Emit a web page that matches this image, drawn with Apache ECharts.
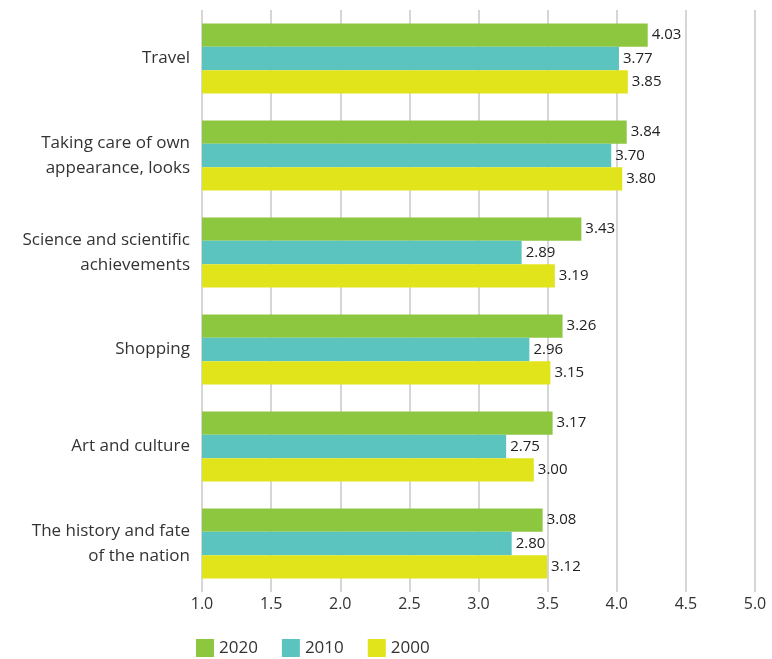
<!DOCTYPE html>
<html>
<head>
<meta charset="utf-8">
<script src="https://cdn.jsdelivr.net/npm/echarts@6/dist/echarts.min.js"></script>
<style>html,body{margin:0;padding:0;background:#fff}#c{width:772px;height:659px}</style>
</head>
<body>
<div id="c"></div>
<script>
const categories = ["Travel", "Taking care of own\nappearance, looks", "Science and scientific\nachievements", "Shopping", "Art and culture", "The history and fate\nof the nation"];
const seriesNames = ["2020", "2010", "2000"];
const values2020 = [4.03, 3.84, 3.43, 3.26, 3.17, 3.08];
const values2010 = [3.77, 3.70, 2.89, 2.96, 2.75, 2.80];
const values2000 = [3.85, 3.80, 3.19, 3.15, 3.00, 3.12];
const tickLabels = ["1.0", "1.5", "2.0", "2.5", "3.0", "3.5", "4.0", "4.5", "5.0"];
const colors = ["#8dc63f", "#5bc4bf", "#e1e41a"];

const FONT = "Open Sans";
const chart = echarts.init(document.getElementById('c'));
const step = 5 / (tickLabels.length - 1);
const mk = (name, data, color) => ({
  name, type: 'bar', data, barGap: '0%', barCategoryGap: '28%',
  itemStyle: { color },
  label: { show: true, position: 'right', distance: 4, color: '#222', fontSize: 15, fontFamily: FONT,
    formatter: p => p.value.toFixed(2) }
});
chart.setOption({
  animation: false,
  textStyle: { fontFamily: FONT },
  grid: { left: 202, right: 17, top: 10, height: 582 },
  legend: {
    left: 191, top: 634, itemWidth: 18, itemHeight: 18, itemGap: 24,
    icon: 'rect', textStyle: { fontSize: 17, color: '#333', fontFamily: FONT },
    data: seriesNames
  },
  xAxis: {
    type: 'value', min: 0, max: 5, interval: step,
    axisLine: { show: false }, axisTick: { show: false },
    splitLine: { show: true, lineStyle: { color: '#c8c8c8', width: 1.5 } },
    axisLabel: { fontSize: 16, color: '#333', fontFamily: FONT, margin: 4,
      formatter: v => tickLabels[Math.round(v / step)] }
  },
  yAxis: {
    type: 'category', data: categories, inverse: true,
    axisLine: { show: false }, axisTick: { show: false },
    axisLabel: { fontSize: 17, color: '#333', fontFamily: FONT, margin: 12, lineHeight: 25 }
  },
  series: [
    mk(seriesNames[0], values2020, colors[0]),
    mk(seriesNames[1], values2010, colors[1]),
    mk(seriesNames[2], values2000, colors[2])
  ]
});
</script>
</body>
</html>
